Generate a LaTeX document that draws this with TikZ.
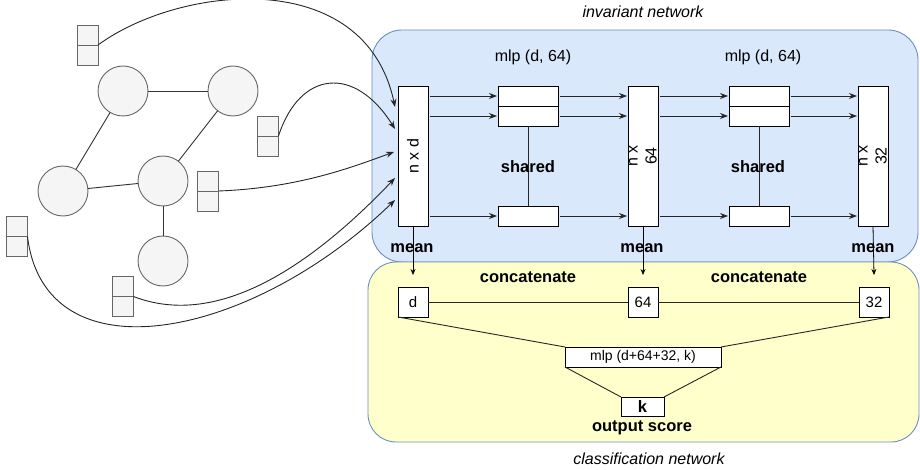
\documentclass[tikz,border=0pt]{standalone}
\usepackage{fontspec}
\setmainfont{Liberation Sans}
\usetikzlibrary{arrows.meta,calc}
\definecolor{gfill}{HTML}{F5F5F5}
\definecolor{gline}{HTML}{666666}
\definecolor{bfill}{HTML}{DAE8FC}
\definecolor{bline}{HTML}{6C8EBF}
\definecolor{yfill}{HTML}{FFFFCC}
\begin{document}
\begin{tikzpicture}[x=1pt,y=-1pt,
  every node/.style={inner sep=0pt,outer sep=0pt},
  gnode/.style={circle,draw=gline,fill=gfill,line width=0.9pt,minimum size=50pt},
  feat/.style={rectangle,draw=gline,fill=gfill,line width=0.9pt,minimum width=21pt,minimum height=40pt},
  gedge/.style={draw=black!80,line width=0.9pt},
  curve/.style={draw=black!85,line width=0.9pt,-{Stealth[length=8pt,width=6pt]}},
  arr/.style={draw=black!85,line width=0.9pt,-{Stealth[length=8pt,width=6pt]},shorten <=2pt,shorten >=1pt},
  smallarr/.style={draw=black,line width=0.8pt,-{Stealth[length=6pt,width=5pt]}},
  tallbox/.style={rectangle,draw=black,fill=white,line width=0.9pt,minimum width=30pt,minimum height=140pt},
  halfbox/.style={rectangle,draw=black,fill=white,line width=0.9pt,minimum width=60pt,minimum height=20pt},
  sqbox/.style={rectangle,draw=black,fill=white,line width=0.9pt,minimum width=30pt,minimum height=30pt,font=\fontsize{15}{18}\selectfont},
  plain/.style={draw=black!85,line width=0.9pt},
  blbl/.style={font=\bfseries\fontsize{16.5}{19}\selectfont},
  rlbl/.style={font=\fontsize{16}{19}\selectfont},
  ilbl/.style={font=\itshape\fontsize{16}{19}\selectfont}
]
\useasboundingbox (0,0) rectangle (920,470);
% regions
\path[draw=bline,fill=bfill,line width=0.9pt,rounded corners=30pt] (372,30) rectangle (918,262);
\path[draw=bline,fill=yfill,line width=0.9pt,rounded corners=28pt] (368,262) rectangle (919,442);
\node[ilbl] (tinv) at (643,12) {invariant network};
\node[ilbl] (tcls) at (649,459) {classification network};

% graph
\node[gnode] (A) at (123,91) {};
\node[gnode] (B) at (233,91) {};
\node[gnode] (C) at (63,191) {};
\node[gnode] (D) at (163,181) {};
\node[gnode] (E) at (163,261) {};
\draw[gedge] (A) -- (B);
\draw[gedge] (A) -- (C);
\draw[gedge] (B) -- (D);
\draw[gedge] (C) -- (D);
\draw[gedge] (D) -- (E);

% feature boxes
\foreach \n/\x/\y in {f1/87.5/45, f2/268/136, f3/208/191, f4/17/236.5, f5/123/296.5}{
  \node[feat] (\n) at (\x,\y) {};
  \draw[draw=gline,line width=0.9pt] (\n.west) -- (\n.east);
}

% network boxes
\node[tallbox] (nxd) at (413,156) {};
\node[rlbl,rotate=90] (tnxd) at (nxd.center) {n x d};
\node[tallbox] (n64) at (643,156) {};
\node[rlbl,rotate=90,align=center] (tn64) at (n64.center) {n x\\64};
\node[tallbox] (n32) at (873,156) {};
\node[rlbl,rotate=90,align=center] (tn32) at (n32.center) {n x\\32};

\node[halfbox] (m1a) at (528,96) {};
\node[halfbox] (m1b) at (528,116) {};
\node[halfbox] (m1c) at (528,216) {};
\node[halfbox] (m2a) at (759,96) {};
\node[halfbox] (m2b) at (759,116) {};
\node[halfbox] (m2c) at (759,216) {};
\draw[plain] (m1b.south) -- (m1c.north);
\draw[plain] (m2b.south) -- (m2c.north);
\node[rlbl] (tm1) at (533,57) {mlp (d, 64)};
\node[rlbl] (tm2) at (763,57) {mlp (d, 64)};
\node[blbl] (sh1) at (528,167) {shared};
\node[blbl] (sh2) at (758,167) {shared};

% curves into n x d
\coordinate (e1) at (395,107);
\coordinate (e2) at (395,129);
\coordinate (e3) at (394,152);
\coordinate (e4) at (395,178);
\coordinate (e5) at (395,200);
\draw[curve] (f1.east) .. controls (180,-15) and (365,-35) .. (e1);
\draw[curve] (f2.east) .. controls (300,70) and (355,65) .. (e2);
\draw[curve] (f3.east) .. controls (300,188) and (355,166) .. (e3);
\draw[curve] (f5.east) .. controls (220,330) and (315,262) .. (e4);
\draw[curve] (f4.east) .. controls (45,380) and (250,340) .. (e5);

% layer arrows
\foreach \s/\t in {m1a/nxd, m1b/nxd, m1c/nxd, m2a/n64, m2b/n64, m2c/n64}{
  \draw[arr] (\t.east |- \s.west) -- (\s.west);
}
\foreach \s/\t in {m1a/n64, m1b/n64, m1c/n64, m2a/n32, m2b/n32, m2c/n32}{
  \draw[arr] (\s.east) -- (\t.west |- \s.east);
}

% mean
\node[blbl] (mn1) at (412,248) {mean};
\node[blbl] (mn2) at (642,248) {mean};
\node[blbl] (mn3) at (873,248) {mean};

% classification
\node[sqbox] (cd) at (413,302) {d};
\node[sqbox] (c64) at (643,302) {64};
\node[sqbox] (c32) at (874,302) {32};
\draw[smallarr] (nxd.south) -- (cd.north |- 0,275);
\draw[smallarr] (n64.south) -- (c64.north |- 0,275);
\draw[smallarr] (n32.south) -- (c32.north |- 0,275);
\draw[plain] (cd.east) -- (c64.west);
\draw[plain] (c64.east) -- (c32.west);
\node[blbl] (cc1) at (528,277) {concatenate};
\node[blbl] (cc2) at (759,277) {concatenate};

\node[rectangle,draw=black,fill=white,line width=0.9pt,minimum width=156pt,minimum height=20pt,font=\fontsize{14}{17}\selectfont] (mlp3) at (643,357) {mlp (d+64+32, k)};
\node[rectangle,draw=black,fill=white,line width=0.9pt,minimum width=43pt,minimum height=19pt,font=\bfseries\fontsize{16.5}{19}\selectfont] (k) at (642.5,406.5) {k};
\draw[plain] (cd.south west) -- (mlp3.north west);
\draw[plain] (c32.south east) -- (mlp3.north east);
\draw[plain] (mlp3.south west) -- (k.north west);
\draw[plain] (mlp3.south east) -- (k.north east);
\node[blbl] (outs) at (642,428) {output score};
\end{tikzpicture}
\end{document}
